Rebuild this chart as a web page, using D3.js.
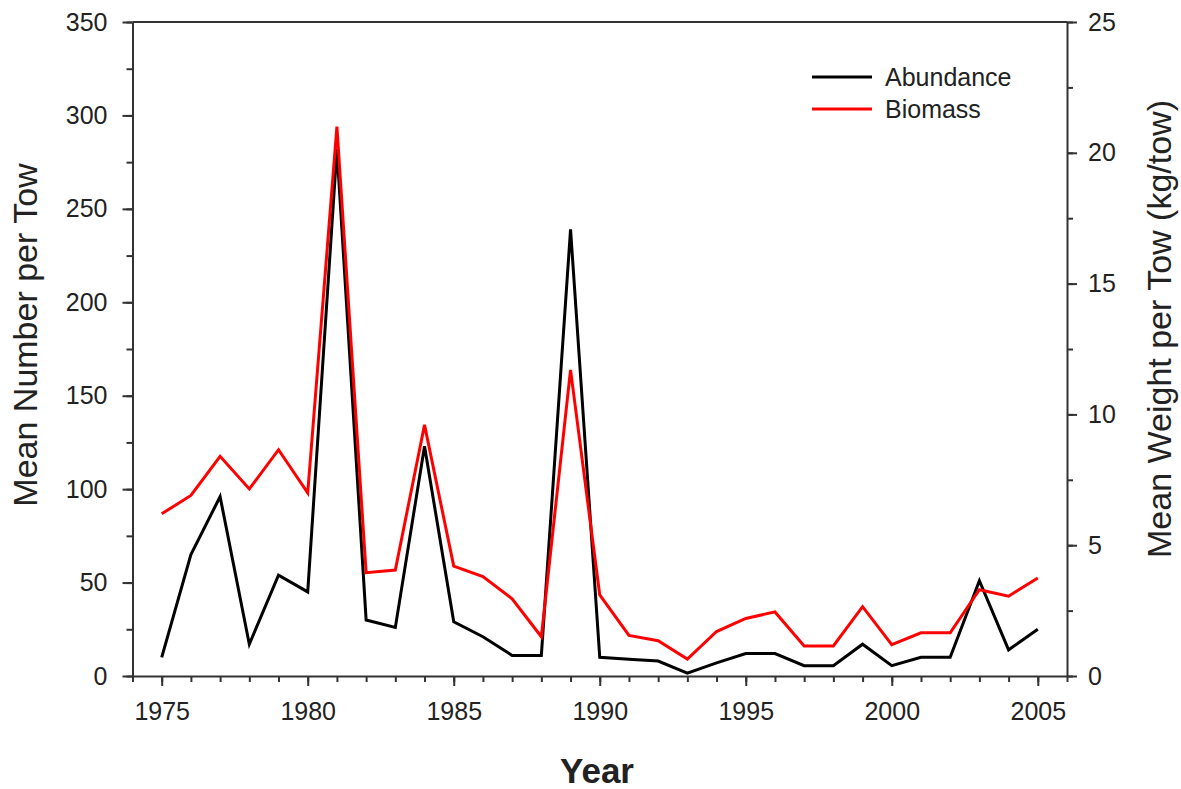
<!DOCTYPE html>
<html>
<head>
<meta charset="utf-8">
<script src="https://cdn.jsdelivr.net/npm/d3@7"></script>
<style>
  body { margin: 0; background: #fff; }
  text { font-family: "Liberation Sans", Arial, sans-serif; fill: #222; }
</style>
</head>
<body>
<div id="chart"></div>
<script>

var years = d3.range(1975, 2006);
var abundance = [10, 65, 96, 17, 54, 45, 282, 30, 26, 123, 29, 21, 11, 11, 239,
    10, 9, 8, 1.5, 7, 12, 12, 5.5, 5.5, 17, 5.5, 10, 10, 51, 14, 25];
var biomass = [6.2, 6.9, 8.4, 7.15, 8.65, 7.0, 21.0, 3.95, 4.05, 9.6, 4.2, 3.8, 2.95, 1.5, 11.7,
    3.1, 1.55, 1.35, 0.65, 1.7, 2.2, 2.45, 1.15, 1.15, 2.65, 1.2, 1.65, 1.65, 3.3, 3.05, 3.75];
var xTicks = [1975, 1980, 1985, 1990, 1995, 2000, 2005];
var leftTicks = [0, 50, 100, 150, 200, 250, 300, 350];
var rightTicks = [0, 5, 10, 15, 20, 25];
var legendLabels = ["Abundance", "Biomass"];
var legendColors = ["#000000", "#ff0000"];

var W = 1181, H = 789;
var plotL = 132.5, plotR = 1067, plotT = 22, plotB = 676;

var svg = d3.select("#chart").append("svg").attr("width", W).attr("height", H);

var x = d3.scaleLinear().domain([1974, 2006]).range([plotL, plotR]);
var yL = d3.scaleLinear().domain([0, 350]).range([plotB, plotT]);
var yR = d3.scaleLinear().domain([0, 25]).range([plotB, plotT]);

function styleAxis(g) {
    g.selectAll(".domain").attr("stroke", "#333").attr("stroke-width", 2);
    g.selectAll(".tick line").attr("stroke", "#333").attr("stroke-width", 2);
    g.selectAll(".tick text").style("font-size", "25px").attr("fill", "#222");
}

// x axis: minor every year, major every 5
var gxMinor = svg.append("g").attr("transform", "translate(0," + plotB + ")")
    .call(d3.axisBottom(x).tickValues(d3.range(1974, 2007)).tickSize(6).tickSizeOuter(0).tickFormat(""));
styleAxis(gxMinor);
var gx = svg.append("g").attr("transform", "translate(0," + plotB + ")")
    .call(d3.axisBottom(x).tickValues(xTicks).tickSize(10).tickSizeOuter(0).tickPadding(16).tickFormat(d3.format("d")));
styleAxis(gx);
gx.select(".domain").remove();

// left axis
var gyLMinor = svg.append("g").attr("transform", "translate(" + plotL + ",0)")
    .call(d3.axisLeft(yL).tickValues(d3.range(0, 351, 25)).tickSize(6).tickSizeOuter(0).tickFormat(""));
styleAxis(gyLMinor);
var gyL = svg.append("g").attr("transform", "translate(" + plotL + ",0)")
    .call(d3.axisLeft(yL).tickValues(leftTicks).tickSize(10).tickSizeOuter(0).tickPadding(15));
styleAxis(gyL);
gyL.select(".domain").remove();

// right axis
var gyRMinor = svg.append("g").attr("transform", "translate(" + plotR + ",0)")
    .call(d3.axisRight(yR).tickValues(d3.range(0, 25.1, 2.5)).tickSize(6).tickSizeOuter(0).tickFormat(""));
styleAxis(gyRMinor);
var gyR = svg.append("g").attr("transform", "translate(" + plotR + ",0)")
    .call(d3.axisRight(yR).tickValues(rightTicks).tickSize(10).tickSizeOuter(0).tickPadding(11));
styleAxis(gyR);
gyR.select(".domain").remove();

// top frame
svg.append("line").attr("x1", plotL).attr("x2", plotR).attr("y1", plotT).attr("y2", plotT)
    .attr("stroke", "#333").attr("stroke-width", 2);

// series
var lineL = d3.line().x(function (d, i) { return x(years[i]); }).y(function (d) { return yL(d); });
var lineR = d3.line().x(function (d, i) { return x(years[i]); }).y(function (d) { return yR(d); });

svg.append("path").datum(abundance).attr("d", lineL)
    .attr("fill", "none").attr("stroke", legendColors[0]).attr("stroke-width", 3);
svg.append("path").datum(biomass).attr("d", lineR)
    .attr("fill", "none").attr("stroke", legendColors[1]).attr("stroke-width", 3);

// legend
var legend = svg.append("g").attr("transform", "translate(812,77)");
legendLabels.forEach(function (lab, i) {
    legend.append("line").attr("x1", 0).attr("x2", 60).attr("y1", i * 32).attr("y2", i * 32)
        .attr("stroke", legendColors[i]).attr("stroke-width", 3);
    legend.append("text").attr("x", 73).attr("y", i * 32 + 9).style("font-size", "25px").text(lab);
});

// titles
svg.append("text").attr("transform", "translate(37,335) rotate(-90)")
    .attr("text-anchor", "middle").style("font-size", "34px").text("Mean Number per Tow");
svg.append("text").attr("transform", "translate(1171,329) rotate(-90)")
    .attr("text-anchor", "middle").style("font-size", "34px").text("Mean Weight per Tow (kg/tow)");
svg.append("text").attr("x", 597).attr("y", 783).attr("text-anchor", "middle")
    .style("font-size", "35px").style("font-weight", "bold").text("Year");

</script>
</body>
</html>
